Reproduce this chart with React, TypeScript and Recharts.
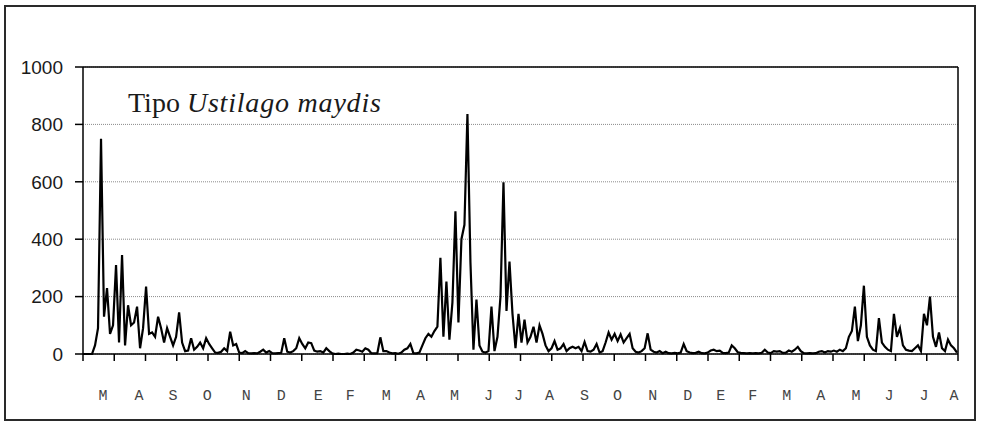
import React from 'react';
import { LineChart, Line, XAxis, YAxis, CartesianGrid, ReferenceLine } from 'recharts';

// Daily-ish pollen counts, sampled every 3 days (day 0 = start of axis)
const SAMPLE_STEP = 3;
const counts: number[] = [
  0, 0, 0, 0, 30, 90, 750, 130, 230, 70,
  100, 310, 40, 345, 30, 170, 100, 110, 165, 20,
  90, 235, 70, 75, 60, 130, 90, 40, 90, 60,
  30, 60, 145, 40, 10, 12, 55, 15, 25, 40,
  20, 55, 35, 20, 5, 4, 8, 20, 10, 78,
  30, 35, 5, 3, 10, 3, 2, 3, 2, 8,
  15, 5, 10, 3, 2, 3, 4, 55, 8, 5,
  10, 20, 55, 35, 20, 40, 38, 12, 8, 10,
  5, 20, 10, 2, 0, 1, 0, 0, 1, 0,
  5, 15, 12, 8, 20, 15, 3, 2, 3, 58,
  10, 10, 5, 2, 3, 1, 5, 15, 20, 35,
  3, 2, 5, 30, 55, 70, 60, 80, 95, 335,
  60, 252, 50, 180, 497, 110, 400, 450, 836, 320,
  15, 190, 30, 8, 5, 10, 165, 10, 60, 200,
  598, 150, 322, 140, 20, 140, 40, 120, 40, 60,
  95, 40, 100, 70, 30, 10, 20, 45, 15, 20,
  35, 10, 20, 25, 20, 25, 10, 42, 10, 8,
  15, 35, 5, 10, 40, 75, 50, 70, 45, 68,
  40, 55, 70, 20, 8, 5, 10, 20, 72, 15,
  8, 5, 10, 3, 8, 3, 2, 4, 2, 5,
  35, 10, 5, 3, 4, 8, 3, 2, 5, 12,
  15, 10, 12, 4, 3, 5, 30, 20, 6, 4,
  3, 2, 3, 2, 3, 2, 4, 15, 5, 3,
  10, 8, 10, 4, 5, 12, 8, 15, 25, 10,
  3, 2, 3, 2, 3, 8, 10, 5, 10, 8,
  12, 8, 15, 10, 20, 60, 80, 165, 45, 100,
  238, 60, 30, 15, 10, 125, 40, 25, 15, 10,
  140, 60, 90, 30, 15, 12, 10, 20, 30, 10,
  140, 100, 200, 60, 25, 75, 20, 10, 50, 30,
  20, 5,
];

const TOTAL_DAYS = 874;
const TICK_INTERVALS = 28;
const monthLabels = ['M', 'A', 'S', 'O', 'N', 'D', 'E', 'F', 'M', 'A', 'M', 'J', 'J', 'A', 'S', 'O', 'N', 'D', 'E', 'F', 'M', 'A', 'M', 'J', 'J', 'A'];
const monthLabelDays = [20, 56, 90, 124, 163, 198, 235, 267, 303, 337, 371, 405, 435, 466, 501, 534, 569, 604, 637, 669, 703, 737, 772, 805, 840, 870];
const yTicks = [0, 200, 400, 600, 800, 1000];

const data = counts.map((v, i) => ({ day: i * SAMPLE_STEP, count: v }));
const xTicks = Array.from({ length: TICK_INTERVALS + 1 }, (_, i) => (i * TOTAL_DAYS) / TICK_INTERVALS);

export default function App() {
  return (
    <div style={{ position: 'absolute', left: 0, top: 0, width: 983, height: 425, background: '#fff', overflow: 'hidden' }}>
      <div
        style={{
          position: 'absolute',
          left: 4,
          top: 5,
          width: 972,
          height: 416,
          border: '2px solid #2a2a2a',
          boxSizing: 'border-box',
        }}
      />
      <div style={{ position: 'absolute', left: 0, top: 0 }}>
        <LineChart width={983} height={425} data={data} margin={{ top: 67, right: 25, bottom: 11, left: 0 }}>
          <CartesianGrid horizontal vertical={false} stroke="#8a8a8a" strokeDasharray="1 1" />
          <XAxis
            dataKey="day"
            type="number"
            domain={[0, TOTAL_DAYS]}
            ticks={xTicks}
            tickFormatter={() => ''}
            height={10}
            tickSize={7}
            axisLine={{ stroke: '#000', strokeWidth: 1.5 }}
            tickLine={{ stroke: '#000', strokeWidth: 1.5 }}
            allowDataOverflow
          />
          <XAxis
            xAxisId="labels"
            dataKey="day"
            type="number"
            domain={[0, TOTAL_DAYS]}
            allowDataOverflow
            ticks={monthLabelDays}
            tickFormatter={(v: number) => monthLabels[monthLabelDays.indexOf(v)] ?? ''}
            height={50}
            tickSize={0}
            tickMargin={25}
            axisLine={false}
            tickLine={false}
            interval={0}
            tick={{ fill: '#444', fontSize: 15, fontFamily: 'Liberation Mono, monospace' }}
          />
          <YAxis
            type="number"
            domain={[0, 1000]}
            ticks={yTicks}
            width={83}
            tickSize={8}
            tickMargin={12}
            axisLine={{ stroke: '#000', strokeWidth: 1.5 }}
            tickLine={{ stroke: '#000', strokeWidth: 1.5 }}
            tick={{ fill: '#1a1a1a', fontSize: 19, fontFamily: 'Liberation Sans, Arial, sans-serif' }}
            interval={0}
          />
          <ReferenceLine y={1000} stroke="#000" strokeWidth={1.5} />
          <ReferenceLine x={TOTAL_DAYS} stroke="#000" strokeWidth={1.5} />
          <Line
            type="linear"
            dataKey="count"
            stroke="#000"
            strokeWidth={2.2}
            dot={false}
            isAnimationActive={false}
          />
        </LineChart>
      </div>
      <svg width={983} height={425} style={{ position: 'absolute', left: 0, top: 0, pointerEvents: 'none' }}>
        <text x={128} y={112} fontFamily="Liberation Serif, Times New Roman, serif" fontSize={28} fill="#1a1a1a">
          <tspan>Tipo </tspan>
          <tspan fontStyle="italic" letterSpacing={0.8}>Ustilago maydis</tspan>
        </text>
      </svg>
    </div>
  );
}
